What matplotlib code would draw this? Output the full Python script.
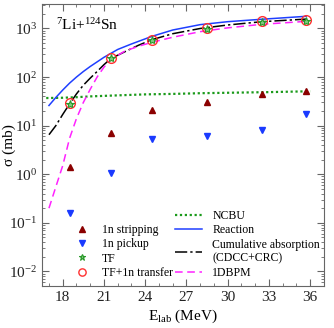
import matplotlib
matplotlib.use("Agg")
import matplotlib.pyplot as plt
from matplotlib.ticker import LogLocator, MultipleLocator

plt.rcParams["font.family"] = ["Liberation Serif", "DejaVu Serif"]
plt.rcParams["mathtext.fontset"] = "custom"
plt.rcParams["mathtext.rm"] = "Liberation Serif"
plt.rcParams["mathtext.it"] = "Liberation Serif:italic"

# measured / computed points
e_pts = [18.5, 21.5, 24.5, 28.5, 32.5, 35.7]
strip = [1.4, 7.1, 20.5, 31, 44, 51]
pickup = [0.16, 1.05, 5.3, 6.2, 8.2, 17]
tf = [28, 245, 580, 980, 1380, 1450]
tf_1n = [29, 250, 590, 1000, 1400, 1480]

# curves
e_ncbu = [16.8, 18.0, 19.0, 20.0, 22.0, 24.0, 26.0, 28.0, 30.0, 33.0, 36.0]
ncbu = [37, 37.5, 38.5, 40, 42, 44, 45, 46.5, 47.5, 49, 51]

e_reac = [17.0, 17.5, 18.0, 18.5, 19.0, 19.5, 20.0, 21.0, 22.0, 23.0, 24.5, 26.0, 28.0, 30.0, 32.5, 35.7]
reac = [26, 38, 54, 75, 100, 130, 165, 255, 370, 480, 690, 930, 1200, 1380, 1550, 1780]

e_cum = [17.0, 17.5, 18.0, 18.5, 19.0, 19.5, 20.0, 20.5, 21.0, 21.5, 22.5, 23.5, 24.5, 26.0, 28.0, 30.0, 32.5, 35.7]
cum = [6.5, 10, 17, 28, 45, 68, 95, 130, 180, 240, 330, 450, 590, 780, 1000, 1180, 1380, 1560]

e_bpm = [17.0, 17.5, 18.0, 18.5, 19.0, 19.5, 20.0, 20.5, 21.0, 21.5, 22.5, 23.5, 24.5, 26.0, 28.0, 30.0, 32.5, 35.7]
bpm = [0.2, 0.55, 1.5, 5.5, 14, 30, 56, 100, 160, 230, 340, 430, 520, 660, 860, 1030, 1220, 1400]

fig = plt.figure(figsize=(3.34, 3.28), dpi=100)
ax = fig.add_axes([0.126, 0.128, 0.844, 0.860])

l1, = ax.plot(e_ncbu, ncbu, color="#1a9a1a", ls=(0, (1, 1.2)), lw=1.6)
l2, = ax.plot(e_reac, reac, color="#1f3fff", lw=1.1)
l3, = ax.plot(e_cum, cum, color="black", ls=(0, (8, 2, 1.5, 2)), lw=1.1)
l4, = ax.plot(e_bpm, bpm, color="#ff22ff", ls=(0, (5, 3)), lw=1.1)

m1, = ax.plot(e_pts, strip, "^", color="#8b0000", ms=5, ls="none")
m2, = ax.plot(e_pts, pickup, "v", color="#1a3aff", ms=5, ls="none")
m4, = ax.plot(e_pts, tf_1n, "o", mfc="none", mec="#ff3030", mew=1.0, ms=7, ls="none")
m3, = ax.plot(e_pts, tf, "*", color="#2a9a2a", mfc="#7ec87e", mew=0.8, ms=6, ls="none")

ax.set_yscale("log")
ax.set_xlim(16.5, 37.0)
ax.set_ylim(5e-3, 3.2e3)
ax.xaxis.set_major_locator(MultipleLocator(3))
ax.xaxis.set_minor_locator(MultipleLocator(1))
ax.yaxis.set_major_locator(LogLocator(base=10, numticks=20))
ax.yaxis.set_minor_locator(LogLocator(base=10, subs=range(2, 10), numticks=20))
ax.tick_params(which="both", direction="in", top=True, right=True, labelsize=11, colors="#222222")
ax.tick_params(which="major", length=5, color="#666666")
ax.tick_params(which="minor", length=2.5, color="#666666")
for s in ax.spines.values():
    s.set_color("#666666")

ax.set_xlabel(r"E$_{\rm lab}$ (MeV)", fontsize=11, va="center")
ax.set_ylabel("σ (mb)", fontsize=11, va="center")
ax.xaxis.set_label_coords(0.5, -0.108)
ax.yaxis.set_label_coords(-0.118, 0.5)
ax.text(0.05, 0.925, r"$^{7}$Li+$^{124}$Sn", transform=ax.transAxes, fontsize=11, va="center")

leg1 = ax.legend([m1, m2, m3, m4], ["1n stripping", "1n pickup", "TF", "TF+1n transfer"],
                 loc="lower left", bbox_to_anchor=(0.12, 0.025), frameon=False,
                 fontsize=8.5, handlelength=1.0, handletextpad=1.2, labelspacing=0.2,
                 borderaxespad=0, borderpad=0, markerscale=0.75)
ax.add_artist(leg1)
ax.legend([l1, l2, l3, l4], ["NCBU", "Reaction", "Cumulative absorption\n(CDCC+CRC)", "1DBPM"],
          loc="lower left", bbox_to_anchor=(0.472, 0.025), frameon=False,
          fontsize=8.5, handlelength=2.3, handletextpad=0.85, labelspacing=0.2,
          borderaxespad=0, borderpad=0)

fig.savefig("out.png", dpi=100)
